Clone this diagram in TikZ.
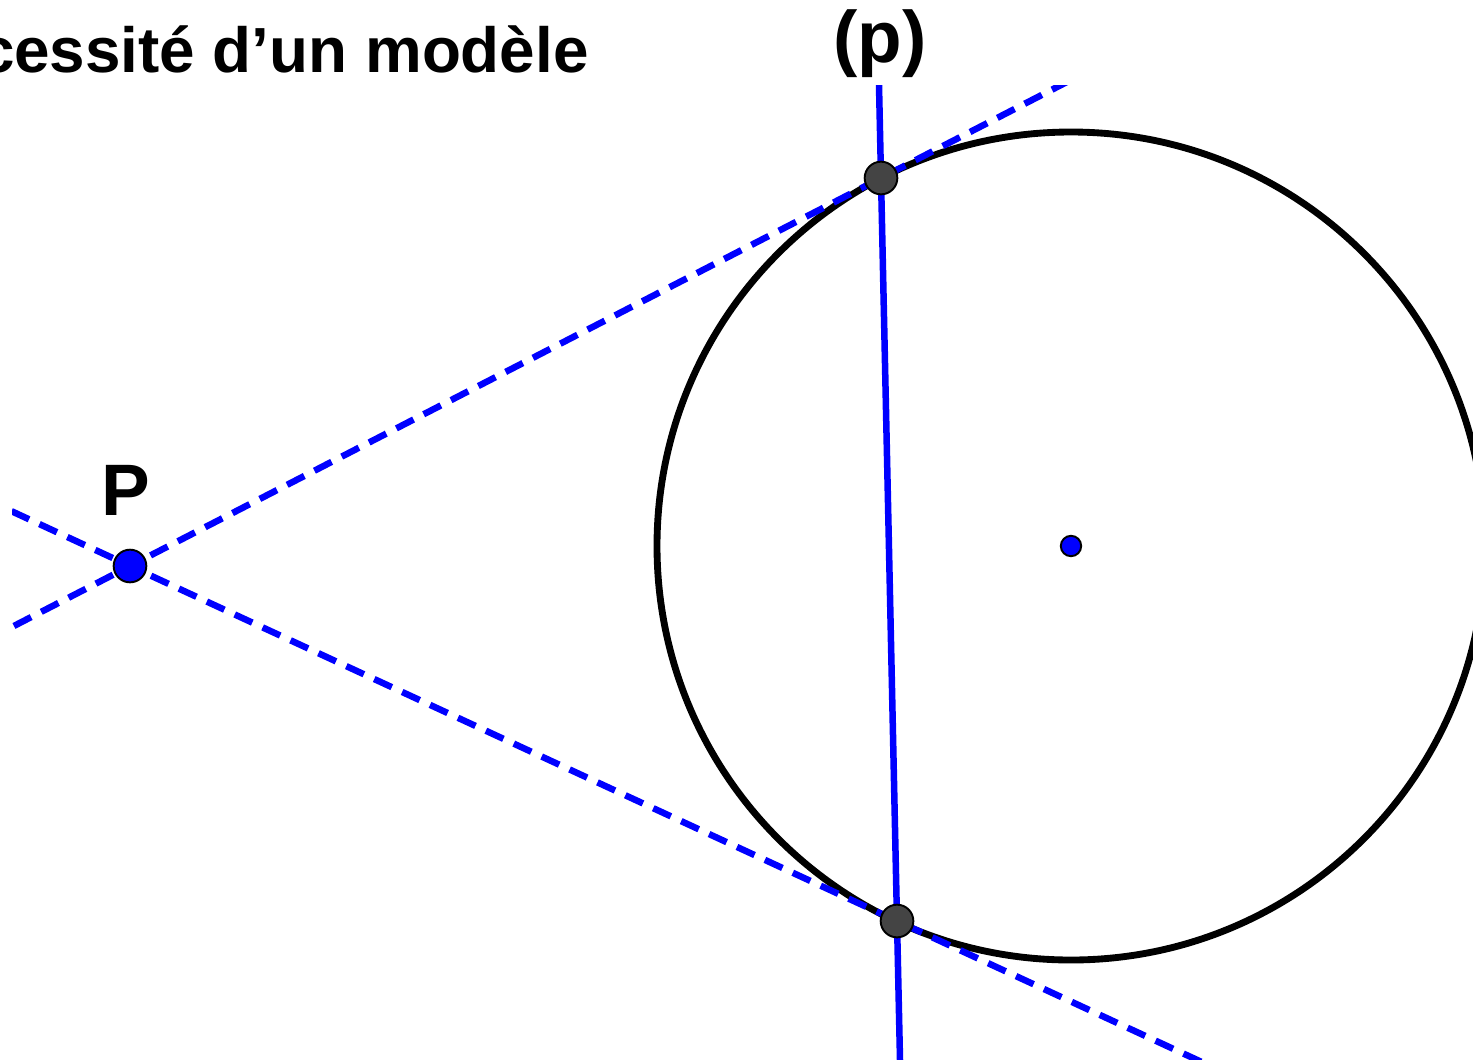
\documentclass[tikz,border=0pt]{standalone}
\usepackage{fontspec}
\setmainfont{Liberation Sans}
\usetikzlibrary{calc}
\definecolor{geoblue}{RGB}{0,0,255}
\definecolor{ptgray}{RGB}{68,68,68}
\begin{document}
\begin{tikzpicture}[x=0.02cm,y=-0.02cm,
  circ/.style={draw=black,line width=3.9pt},
  tangentline/.style={draw=geoblue,line width=3.7pt,dash pattern=on 11pt off 6.5pt},
  polarline/.style={draw=geoblue,line width=3.7pt},
  bigpt/.style={circle,draw=black,line width=1.1pt,inner sep=0pt,minimum size=18.6pt},
  smallpt/.style={circle,draw=black,line width=1.1pt,inner sep=0pt,minimum size=11.6pt,fill=geoblue},
  titlefont/.style={font=\fontsize{36.3}{40}\selectfont\bfseries,inner sep=0pt},
  lbl/.style={font=\fontsize{41.5}{44}\selectfont\bfseries,inner sep=0pt}
]
\useasboundingbox (0,0) rectangle (1473,1059);
% positions
\coordinate (p) at (130,566);
\coordinate (t1) at (881,178);
\coordinate (t2) at (897,921);
\coordinate (o) at (1071,546);
% circle
\draw[circ] (o) circle[radius=414];
% lines
\begin{scope}
  \clip (12,85) rectangle (1473,1059);
  \coordinate (a1) at ($(p)!-0.3!(t1)$);
  \coordinate (b1) at ($(p)!1.5!(t1)$);
  \coordinate (a2) at ($(p)!-0.3!(t2)$);
  \coordinate (b2) at ($(p)!1.7!(t2)$);
  \coordinate (c1) at ($(t1)!-0.3!(t2)$);
  \coordinate (c2) at ($(t1)!1.3!(t2)$);
  \draw[tangentline] (a1) -- (p) -- (t1) -- (b1);
  \draw[tangentline] (a2) -- (p) -- (t2) -- (b2);
  \draw[polarline] (c1) -- (t1) -- (t2) -- (c2);
\end{scope}
% points
\node[bigpt,fill=geoblue] (P) at (p) {};
\node[bigpt,fill=ptgray] (T1) at (t1) {};
\node[bigpt,fill=ptgray] (T2) at (t2) {};
\node[smallpt] (O) at (o) {};
% texts
\node[titlefont,anchor=base east] (title) at (589,72) {cessité d’un modèle};
\node[lbl,anchor=base] (plabel) at (880,62) {(p)};
\node[lbl,anchor=base] (Plabel) at (126,515) {P};
\end{tikzpicture}
\end{document}
